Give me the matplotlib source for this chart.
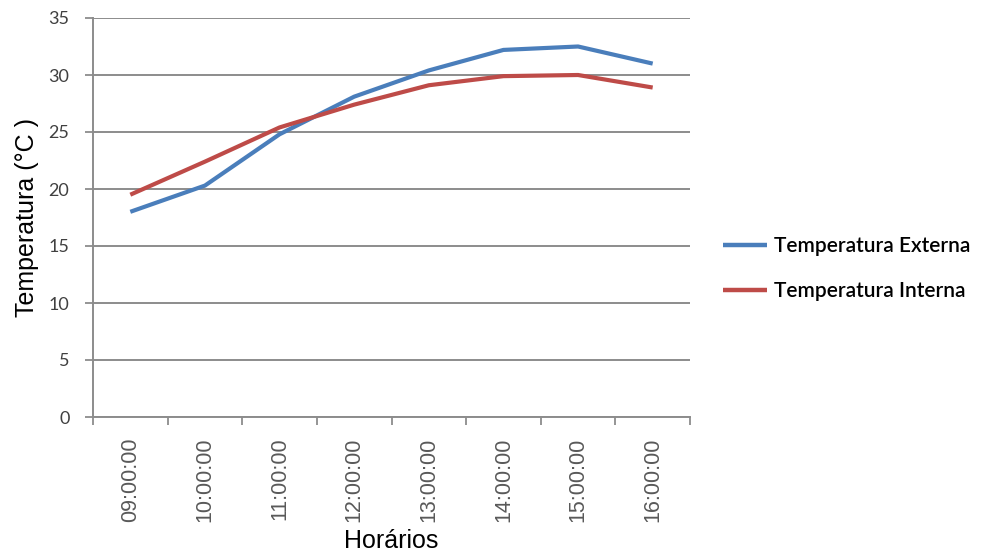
import matplotlib
matplotlib.use("Agg")
import matplotlib.pyplot as plt
import numpy as np

horarios = ["09:00:00", "10:00:00", "11:00:00", "12:00:00",
            "13:00:00", "14:00:00", "15:00:00", "16:00:00"]
temp_externa = [18.0, 20.3, 24.8, 28.1, 30.4, 32.2, 32.5, 31.0]
temp_interna = [19.5, 22.4, 25.4, 27.4, 29.1, 29.9, 30.0, 28.9]
yticks = [0, 5, 10, 15, 20, 25, 30, 35]

fig = plt.figure(figsize=(9.81, 5.58), dpi=100)
ax = fig.add_axes([93 / 981, 1 - 417 / 558, (690 - 93) / 981, (417 - 18) / 558])

x = np.arange(len(horarios))
ax.plot(x, temp_externa, color="#4A7EBB", lw=3, label="Temperatura Externa",
        solid_capstyle="butt", solid_joinstyle="round")
ax.plot(x, temp_interna, color="#BE4B48", lw=3, label="Temperatura Interna",
        solid_capstyle="butt", solid_joinstyle="round")

ax.set_xlim(-0.5, len(horarios) - 0.5)
ax.set_ylim(0, 35)
ax.set_yticks(yticks)
ax.set_yticklabels([str(v) for v in yticks], family="Lato", fontsize=13, color="#404040")
ax.yaxis.grid(True, color="#8C8C8C", lw=1.4)
ax.set_axisbelow(True)

# category labels centred in their bins, tick marks on the bin edges
ax.set_xticks(x)
ax.set_xticklabels(horarios, rotation=90, family="Liberation Sans", fontsize=15.5, color="#595959")
ax.set_xticks(np.arange(-0.5, len(horarios)), minor=True)
ax.tick_params(axis="x", which="major", length=0, pad=15)
ax.tick_params(axis="x", which="minor", length=6, color="#8C8C8C", width=1.3)
ax.tick_params(axis="y", length=6, color="#8C8C8C", width=1.3, pad=11)

for s in ("top", "right"):
    ax.spines[s].set_visible(False)
for s in ("left", "bottom"):
    ax.spines[s].set_color("#8C8C8C")
    ax.spines[s].set_linewidth(1.4)

ax.set_ylabel("Temperatura (°C )", family="Liberation Sans", fontsize=18, color="#000000", labelpad=7)
ax.set_xlabel("Horários", family="Liberation Sans", fontsize=18, color="#000000", labelpad=5)

leg = fig.legend(loc="center left", bbox_to_anchor=(723 / 981, 1 - 269 / 558),
                 frameon=False, handlelength=2.1, handletextpad=0.33, labelspacing=1.2,
                 borderpad=0, borderaxespad=0,
                 prop={"family": "Lato", "size": 15, "weight": "semibold"})
for h in leg.get_lines():
    h.set_linewidth(3.2)

fig.savefig("out.png", dpi=100)
